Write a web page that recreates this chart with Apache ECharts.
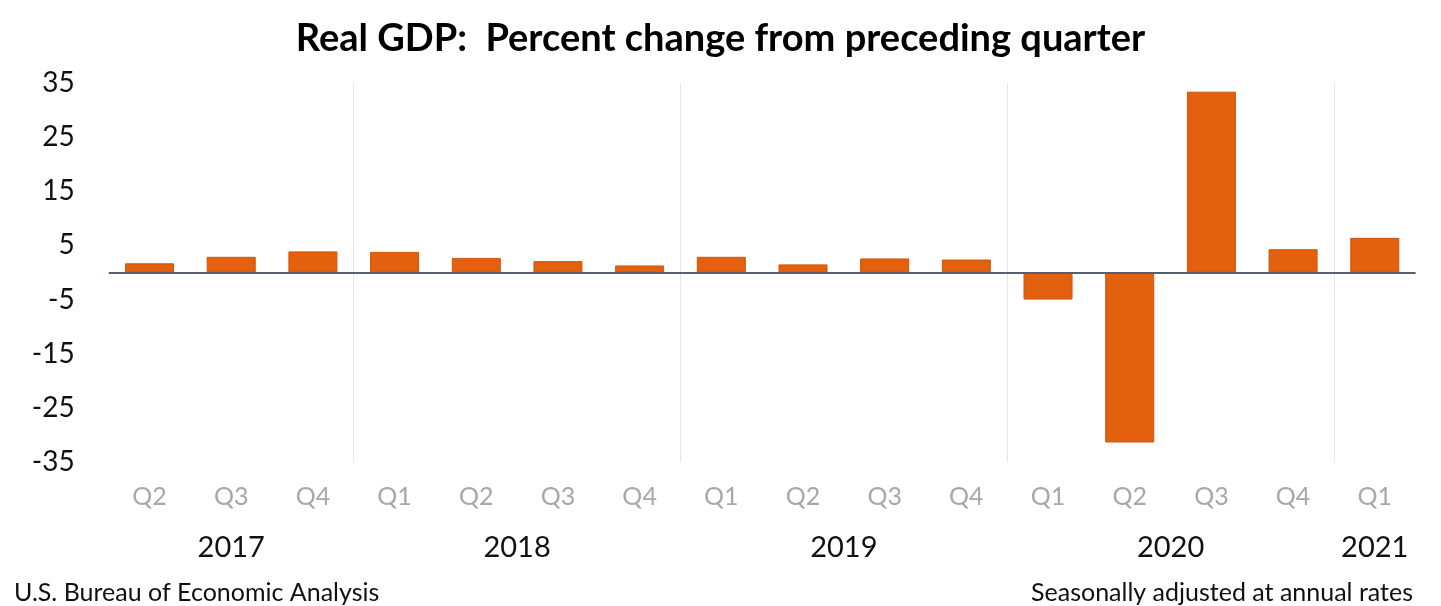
<!DOCTYPE html>
<html>
<head>
<meta charset="utf-8">
<script src="https://cdn.jsdelivr.net/npm/echarts@6/dist/echarts.min.js"></script>
<style>
html,body{margin:0;padding:0;background:#fff;}
#chart{width:1441px;height:606px;}
</style>
</head>
<body>
<div id="chart"></div>
<script>
// ---- data ----
const categories = ['2017 Q2','2017 Q3','2017 Q4','2018 Q1','2018 Q2','2018 Q3','2018 Q4',
  '2019 Q1','2019 Q2','2019 Q3','2019 Q4','2020 Q1','2020 Q2','2020 Q3','2020 Q4','2021 Q1'];
const gdpChange = [1.7, 2.9, 3.9, 3.8, 2.7, 2.1, 1.3, 2.9, 1.5, 2.6, 2.4, -5.0, -31.4, 33.4, 4.3, 6.4];
const yTicks = [-35, -25, -15, -5, 5, 15, 25, 35];
const titleText = 'Real GDP:  Percent change from preceding quarter';
const sourceText = 'U.S. Bureau of Economic Analysis';
const noteText = 'Seasonally adjusted at annual rates';

// year label positions: mean index of each year's quarters
const yearLabels = [];
const yearPositions = [];
categories.forEach((c, i) => {
  const y = c.split(' ')[0];
  let k = yearLabels.indexOf(y);
  if (k < 0) { yearLabels.push(y); yearPositions.push([]); k = yearLabels.length - 1; }
  yearPositions[k].push(i);
});
const yearCenters = yearPositions.map(a => a.reduce((s, v) => s + v, 0) / a.length);
// first category index of each year after the first -> separator lines
const yearStarts = yearPositions.slice(1).map(a => a[0]);

const FONT = 'Lato, "Open Sans", sans-serif';
const chart = echarts.init(document.getElementById('chart'));
chart.setOption({
  animation: false,
  backgroundColor: '#ffffff',
  title: [
    { text: titleText, left: 'center', top: 15,
      textStyle: { fontFamily: FONT, fontWeight: 'bold', fontSize: 38, color: '#000' } },
    { text: sourceText, left: 9, top: 575,
      textStyle: { fontFamily: FONT, fontWeight: 'normal', fontSize: 25, color: '#111' } },
    { text: noteText, right: 23, top: 575,
      textStyle: { fontFamily: FONT, fontWeight: 'normal', fontSize: 25, color: '#111' } }
  ],
  grid: { left: 108.7, right: 25.4, top: 83, bottom: 144, containLabel: false },
  xAxis: [
    {
      type: 'category',
      data: categories,
      boundaryGap: true,
      axisLine: { show: false, onZero: false },
      axisTick: { show: false },
      splitLine: {
        show: true,
        interval: (idx) => yearStarts.indexOf(idx) >= 0,
        lineStyle: {
          color: yearStarts.map(() => '#e6e6e6').concat(['rgba(0,0,0,0)']),
          width: 1
        }
      },
      axisLabel: {
        margin: 35, verticalAlign: 'middle',
        fontFamily: FONT, fontSize: 25, color: '#a8a8a8',
        formatter: (v) => v.split(' ')[1]
      }
    },
    {
      type: 'value',
      min: -0.5, max: 15.5,
      position: 'bottom',
      axisLine: { show: false, onZero: false },
      axisTick: { show: false },
      splitLine: { show: false },
      axisLabel: {
        customValues: yearCenters,
        margin: 86, verticalAlign: 'middle',
        fontFamily: FONT, fontSize: 29, color: '#111',
        formatter: (v) => {
          const k = yearCenters.findIndex(c => Math.abs(c - v) < 1e-6);
          return k >= 0 ? yearLabels[k] : '';
        }
      }
    }
  ],
  yAxis: {
    type: 'value',
    min: yTicks[0], max: yTicks[yTicks.length - 1], interval: 10,
    axisLine: { show: false },
    axisTick: { show: false },
    splitLine: { show: false },
    axisLabel: { margin: 34, fontFamily: FONT, fontSize: 28, color: '#111' }
  },
  series: [{
    type: 'bar',
    data: gdpChange,
    barWidth: '60%',
    itemStyle: { color: '#E3600E', borderColor: '#D2540A', borderWidth: 1 },
    markLine: {
      silent: true, symbol: 'none',
      label: { show: false },
      lineStyle: { color: '#56606c', width: 2, type: 'solid' },
      data: [{ yAxis: 0 }]
    }
  }]
});
</script>
</body>
</html>
